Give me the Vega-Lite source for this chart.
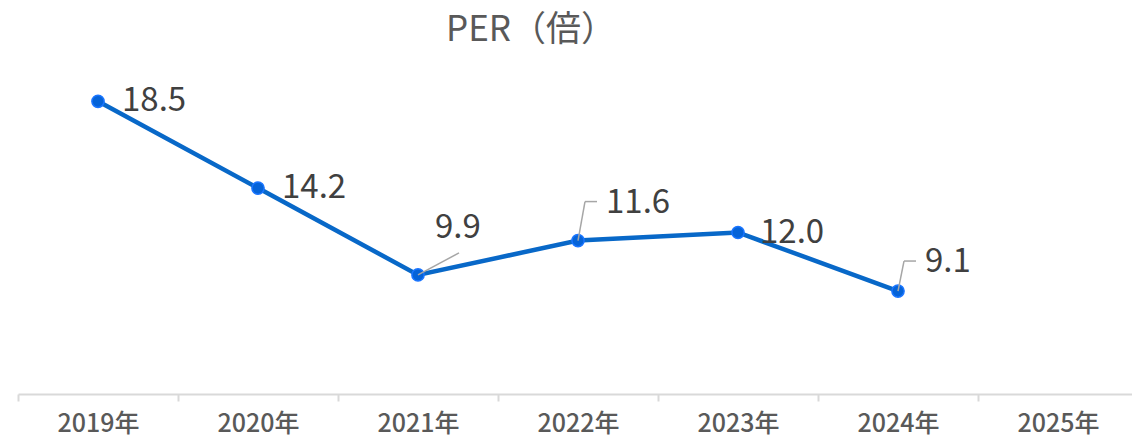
{
  "$schema": "https://vega.github.io/schema/vega-lite/v6.json",
  "autosize": "none",
  "width": 1120,
  "height": 323,
  "padding": {"left": 18, "top": 71, "right": 0, "bottom": 44},
  "background": "white",
  "config": {"view": {"stroke": null}, "font": "Noto Sans CJK JP"},
  "title": {"text": "PER（倍）", "fontSize": 35, "fontWeight": "normal", "color": "#595959", "anchor": "middle", "frame": "group", "offset": 23, "dx": -47, "font": "Noto Sans CJK JP"},
  "data": {"values": [
    {"year": 2019, "per": 18.5},
    {"year": 2020, "per": 14.2},
    {"year": 2021, "per": 9.9},
    {"year": 2022, "per": 11.6},
    {"year": 2023, "per": 12.0},
    {"year": 2024, "per": 9.1}
  ]},
  "resolve": {"scale": {"x": "independent"}, "axis": {"x": "independent"}},
  "layer": [
    {
      "encoding": {
        "x": {"field": "year", "type": "ordinal", "bandPosition": 0.5,
          "scale": {"type": "band", "domain": [2019, 2020, 2021, 2022, 2023, 2024, 2025], "paddingInner": 0, "paddingOuter": 0},
          "axis": {"title": null, "labelExpr": "isValid(datum.value) ? datum.value + '年' : ''", "labelAngle": 0, "labelFontSize": 25, "labelColor": "#595959", "labelFontWeight": 500, "labelFont": "Noto Sans CJK JP", "domainColor": "#d9d9d9", "domainWidth": 2, "tickColor": "#d9d9d9", "tickWidth": 2, "tickSize": 7, "tickBand": "extent", "labelPadding": 10, "grid": false}},
        "y": {"field": "per", "type": "quantitative", "scale": {"domain": [4, 20], "nice": false, "zero": false}, "axis": null}
      },
      "layer": [
        {"mark": {"type": "line", "color": "#0868C8", "strokeWidth": 4.5}},
        {"mark": {"type": "point", "filled": true, "size": 150, "color": "#0563D8", "stroke": "#1A75FF", "strokeWidth": 1.5, "opacity": 1}},
        {"transform": [{"filter": "datum.year == 2019 || datum.year == 2020"}],
         "mark": {"type": "text", "align": "left", "baseline": "middle", "dx": 24, "dy": 0, "fontSize": 33, "color": "#404040"},
         "encoding": {"text": {"field": "per", "type": "quantitative", "format": ".1f"}}},
        {"transform": [{"filter": "datum.year == 2023"}],
         "mark": {"type": "text", "align": "left", "baseline": "middle", "dx": 22, "dy": 0, "fontSize": 33, "color": "#404040"},
         "encoding": {"text": {"field": "per", "type": "quantitative", "format": ".1f"}}},
        {"transform": [{"filter": "datum.year == 2021"}],
         "mark": {"type": "text", "align": "left", "baseline": "middle", "dx": 17, "dy": -47, "fontSize": 33, "color": "#404040"},
         "encoding": {"text": {"field": "per", "type": "quantitative", "format": ".1f"}}},
        {"transform": [{"filter": "datum.year == 2022"}],
         "mark": {"type": "text", "align": "left", "baseline": "middle", "dx": 28, "dy": -38, "fontSize": 33, "color": "#404040"},
         "encoding": {"text": {"field": "per", "type": "quantitative", "format": ".1f"}}},
        {"transform": [{"filter": "datum.year == 2024"}],
         "mark": {"type": "text", "align": "left", "baseline": "middle", "dx": 27, "dy": -29, "fontSize": 33, "color": "#404040"},
         "encoding": {"text": {"field": "per", "type": "quantitative", "format": ".1f"}}}
      ]
    },
    {
      "encoding": {
        "x": {"field": "year", "type": "quantitative", "scale": {"domain": [2018.5, 2025.5], "nice": false, "zero": false}, "axis": null},
        "x2": {"field": "year"},
        "y": {"field": "per", "type": "quantitative", "scale": {"domain": [4, 20], "nice": false, "zero": false}, "axis": null},
        "y2": {"field": "per"}
      },
      "layer": [
        {"transform": [{"filter": "datum.year == 2021"}],
         "mark": {"type": "rule", "color": "#a6a6a6", "strokeWidth": 1.5, "x2Offset": 41, "y2Offset": -22}},
        {"transform": [{"filter": "datum.year == 2022"}],
         "mark": {"type": "rule", "color": "#a6a6a6", "strokeWidth": 1.5, "x2Offset": 7, "y2Offset": -39}},
        {"transform": [{"filter": "datum.year == 2022"}],
         "mark": {"type": "rule", "color": "#a6a6a6", "strokeWidth": 1.5, "xOffset": 7, "yOffset": -39, "x2Offset": 19, "y2Offset": -39}},
        {"transform": [{"filter": "datum.year == 2024"}],
         "mark": {"type": "rule", "color": "#a6a6a6", "strokeWidth": 1.5, "x2Offset": 6, "y2Offset": -30}},
        {"transform": [{"filter": "datum.year == 2024"}],
         "mark": {"type": "rule", "color": "#a6a6a6", "strokeWidth": 1.5, "xOffset": 6, "yOffset": -30, "x2Offset": 18, "y2Offset": -30}}
      ]
    }
  ]
}
